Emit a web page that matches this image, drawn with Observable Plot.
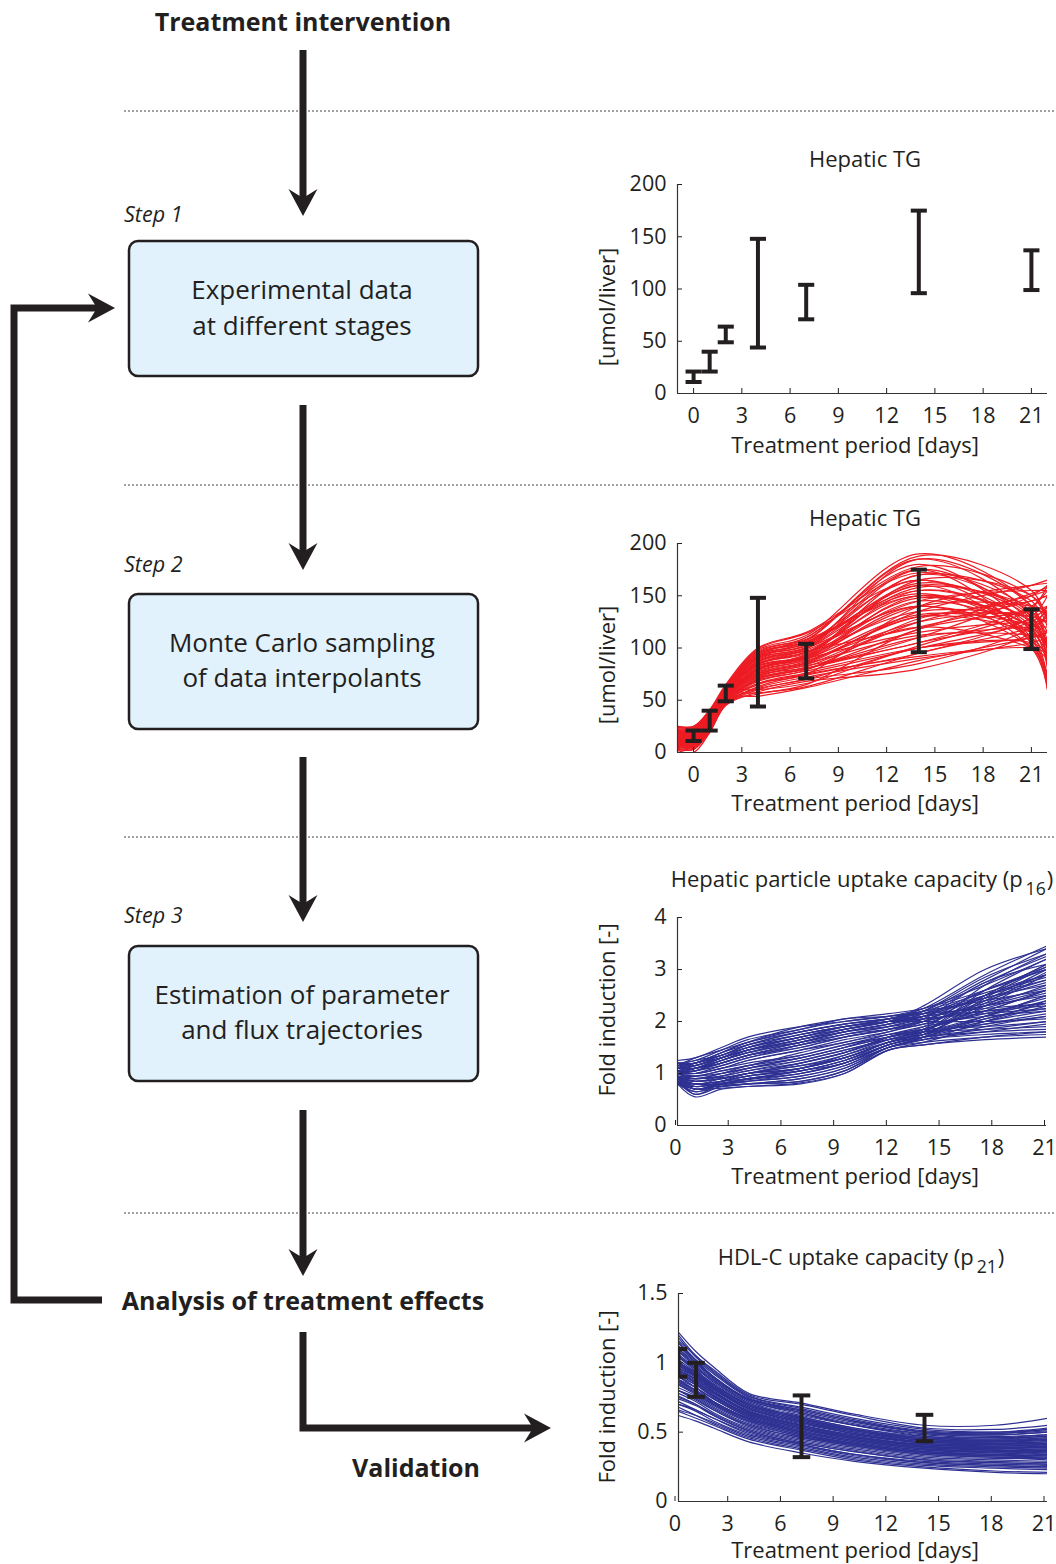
<!DOCTYPE html>
<html><head><meta charset="utf-8">
<script src="https://cdn.jsdelivr.net/npm/d3@7"></script>
<script src="https://cdn.jsdelivr.net/npm/@observablehq/plot@0.6"></script>
<style>
body{margin:0;background:#fff;}
#page{position:relative;width:1056px;height:1564px;overflow:hidden;font-family:"Open Sans",sans-serif;color:#231f20;background:#fff;}
.chart{position:absolute;}
.lbl{position:absolute;transform:translate(-50%,-50%);white-space:nowrap;font-size:22px;line-height:1;}
.ylbl{position:absolute;transform:translate(-50%,-50%) rotate(-90deg);white-space:nowrap;font-size:22px;line-height:1;}
sub{font-size:0.8em;vertical-align:-0.45em;margin-left:3px;margin-right:1px;}
</style></head>
<body><div id="page">
<svg width="1056" height="1564" style="position:absolute;left:0;top:0" font-family="Open Sans, sans-serif" fill="#231f20">
  <g stroke="#444" stroke-width="1" stroke-dasharray="2,2">
    <line x1="124" x2="1056" y1="111" y2="111"/>
    <line x1="124" x2="1056" y1="485" y2="485"/>
    <line x1="124" x2="1056" y1="837" y2="837"/>
    <line x1="124" x2="1056" y1="1213" y2="1213"/>
  </g>
  <g stroke="#231f20" stroke-width="7" fill="none">
    <line x1="303" x2="303" y1="50" y2="202"/>
    <line x1="303" x2="303" y1="405" y2="556"/>
    <line x1="303" x2="303" y1="757" y2="908"/>
    <line x1="303" x2="303" y1="1110" y2="1262"/>
    <path d="M102,1300 H14 V308 H100" stroke-linejoin="miter"/>
    <path d="M303,1332 V1428 H537" stroke-linejoin="miter"/>
  </g>
  <g fill="#231f20">
    <path d="M303,216 L288.5,189 L303,198 L317.5,189 Z"/>
    <path d="M303,570 L288.5,543 L303,552 L317.5,543 Z"/>
    <path d="M303,922 L288.5,895 L303,904 L317.5,895 Z"/>
    <path d="M303,1276 L288.5,1249 L303,1258 L317.5,1249 Z"/>
    <path d="M115,308 L88,293.5 L97,308 L88,322.5 Z"/>
    <path d="M551,1428 L524,1413.5 L533,1428 L524,1442.5 Z"/>
  </g>
  <g fill="#e1f2fc" stroke="#231f20" stroke-width="2.5">
    <rect x="129" y="241" width="349" height="135" rx="9"/>
    <rect x="129" y="594" width="349" height="135" rx="9"/>
    <rect x="129" y="946" width="349" height="135" rx="9"/>
  </g>
  <g text-anchor="middle" font-size="26">
    <text x="302" y="299">Experimental data</text>
    <text x="302" y="335">at different stages</text>
    <text x="302" y="652">Monte Carlo sampling</text>
    <text x="302" y="687">of data interpolants</text>
    <text x="302" y="1004">Estimation of parameter</text>
    <text x="302" y="1039">and flux trajectories</text>
  </g>
  <g font-style="italic" font-size="21.5">
    <text x="124" y="222">Step 1</text>
    <text x="124" y="572">Step 2</text>
    <text x="124" y="923">Step 3</text>
  </g>
  <g font-weight="bold" text-anchor="middle" font-size="25">
    <text x="303" y="31">Treatment intervention</text>
    <text x="303" y="1310">Analysis of treatment effects</text>
    <text x="416" y="1477">Validation</text>
  </g>
</svg>

<div class="lbl" style="left:865px;top:158px">Hepatic TG</div>
<div class="lbl" style="left:855px;top:444px">Treatment period [days]</div>
<div class="ylbl" style="left:606px;top:307px">[umol/liver]</div>

<div class="lbl" style="left:865px;top:517px">Hepatic TG</div>
<div class="lbl" style="left:855px;top:802px">Treatment period [days]</div>
<div class="ylbl" style="left:606px;top:665px">[umol/liver]</div>

<div class="lbl" style="left:862px;top:882px">Hepatic particle uptake capacity (p<sub>16</sub>)</div>
<div class="lbl" style="left:855px;top:1175px">Treatment period [days]</div>
<div class="ylbl" style="left:606px;top:1010px">Fold induction [-]</div>

<div class="lbl" style="left:861px;top:1260px">HDL-C uptake capacity (p<sub>21</sub>)</div>
<div class="lbl" style="left:855px;top:1549px">Treatment period [days]</div>
<div class="ylbl" style="left:606px;top:1397px">Fold induction [-]</div>
</div>
<script>
// ---- Data ----
// Hepatic TG measurements (error bars)
const tgDays = [0, 1, 2, 4, 7, 14, 21];
const tgLow  = [11, 21, 49, 44, 71, 96, 99];
const tgHigh = [21, 40, 64, 148, 104, 175, 137];

// Monte Carlo interpolants of hepatic TG, values at these days
const tgCurveDays = [-1, 0, 1, 2, 4, 7, 14, 21, 22];
const tgCurves = [
  [12,12,28,55,80,90,150,120,100],
  [8,8,25,52,75,85,130,115,105],
  [18,18,32,58,88,100,175,125,90],
  [5,5,22,48,65,75,95,130,150],
  [22,22,38,62,95,108,185,130,85],
  [15,15,30,54,82,92,140,140,135],
  [10,10,26,50,70,80,110,150,160],
  [20,20,35,60,90,105,165,110,70],
  [3,3,20,46,60,70,85,120,140],
  [14,14,30,57,85,95,160,105,65],
  [25,25,40,64,98,112,190,140,95],
  [7,7,24,50,72,84,120,100,90],
  [17,17,33,56,86,98,145,155,155],
  [11,11,27,53,78,88,125,135,135],
  [19,19,36,61,92,102,170,145,120],
  [6,6,23,49,68,78,100,110,115],
  [13,13,29,55,80,94,155,125,100],
  [23,23,39,63,96,110,180,115,70],
  [9,9,25,51,74,86,135,160,165],
  [16,16,31,57,84,96,150,100,60],
  [4,4,21,47,62,72,90,105,110],
  [21,21,37,60,93,104,160,135,115],
  [12,12,28,54,79,90,115,125,125],
  [18,18,34,59,89,100,140,110,90],
  [8,8,24,51,73,83,105,140,155],
  [15,15,32,56,83,93,165,150,130],
  [24,24,40,62,97,108,150,120,100],
  [10,10,26,52,76,87,130,130,125],
  [20,20,36,60,91,103,175,105,60],
  [2,0,19,45,58,68,80,115,135],
  [14,14,30,55,81,91,145,115,95],
  [17,17,33,58,87,97,120,145,150],
  [6,6,22,49,70,80,110,120,120],
  [22,22,38,61,94,106,155,125,105],
  [11,11,27,53,77,89,140,100,75],
  [19,19,35,59,90,101,185,140,105],
  [9,9,25,50,71,82,125,150,155],
  [16,16,32,57,85,96,135,130,125],
  [13,13,29,54,80,92,170,130,100],
  [7,7,23,48,66,76,100,125,135],
  [5,5,21,47,56,63,95,120,130],
  [10,10,27,52,54,62,88,110,115],
  [20,20,34,58,60,66,100,105,95],
  [15,15,31,55,57,65,118,135,140],
  [8,8,24,50,66,75,140,160,162],
  [24,24,39,63,99,114,165,120,80],
  [12,12,29,54,92,110,178,150,125],
  [18,18,33,57,84,99,158,140,130],
  [3,3,20,46,63,74,92,100,95],
  [21,21,36,61,91,107,188,155,125],
  [14,14,30,56,76,85,112,112,108],
  [7,7,23,49,69,79,128,145,150],
  [25,25,41,65,100,115,172,135,100],
  [9,9,25,51,79,92,148,118,85],
  [17,17,33,57,74,81,105,128,140],
  [11,11,28,53,87,100,162,128,90],
  [22,22,37,61,83,90,132,122,115],
  [6,6,22,48,61,70,102,138,160],
  [19,19,34,59,95,105,152,108,62],
  [13,13,29,55,72,80,118,152,158]
];

// Hepatic particle uptake capacity p16 trajectories
const p16Days = [0, 1, 2.5, 4, 7, 9.5, 12, 14, 17.5, 21];
const p16Curves = [
  [1.0,0.9,1.0,1.1,1.3,1.5,1.7,1.85,2.2,2.6],
  [1.1,1.2,1.4,1.6,1.8,1.95,2.05,2.2,2.8,3.4],
  [0.9,0.6,0.8,0.85,0.95,1.15,1.5,1.6,1.7,1.75],
  [1.0,1.1,1.3,1.5,1.7,1.9,2.0,2.1,2.5,2.9],
  [0.85,0.8,0.75,0.8,0.9,1.1,1.5,1.7,2.1,2.5],
  [1.2,1.25,1.45,1.65,1.85,2.05,2.1,2.2,2.4,2.6],
  [0.95,0.7,0.85,1.0,1.2,1.4,1.7,1.9,2.5,3.1],
  [1.05,1.0,1.1,1.25,1.45,1.6,1.8,1.95,2.1,2.2],
  [0.8,0.75,0.8,0.9,1.0,1.2,1.55,1.75,2.3,2.9],
  [1.15,1.2,1.35,1.5,1.75,1.9,2.05,2.25,2.9,3.45],
  [1.0,0.95,1.05,1.15,1.4,1.6,1.75,1.8,1.85,1.9],
  [0.9,0.85,0.9,1.0,1.1,1.3,1.6,1.8,2.4,3.0],
  [1.1,1.15,1.3,1.45,1.65,1.85,2.0,2.05,2.2,2.35],
  [0.85,0.6,0.75,0.8,0.85,1.05,1.45,1.55,1.65,1.7],
  [1.05,1.1,1.2,1.35,1.55,1.75,1.9,2.1,2.6,3.05],
  [0.95,0.9,0.95,1.05,1.25,1.45,1.65,1.75,2.0,2.3],
  [1.2,1.2,1.4,1.6,1.9,2.05,2.15,2.25,2.6,3.0],
  [0.8,0.7,0.72,0.75,0.8,1.0,1.45,1.6,1.9,2.1],
  [1.0,1.05,1.15,1.3,1.5,1.7,1.85,2.0,2.3,2.7],
  [0.9,0.8,0.85,0.95,1.1,1.35,1.65,1.85,2.7,3.3],
  [1.15,1.25,1.35,1.55,1.8,1.95,2.05,2.1,2.3,2.5],
  [0.95,0.85,0.9,1.0,1.15,1.35,1.6,1.7,1.8,1.85],
  [1.05,1.05,1.25,1.4,1.6,1.8,1.95,2.15,2.5,2.8],
  [0.85,0.65,0.8,0.85,0.95,1.15,1.5,1.65,2.0,2.4],
  [1.1,1.1,1.25,1.45,1.7,1.85,2.0,2.3,3.0,3.4],
  [1.0,1.0,1.1,1.2,1.35,1.55,1.75,1.9,2.15,2.45],
  [0.9,0.9,0.95,1.05,1.2,1.4,1.7,1.85,2.2,2.6],
  [1.2,1.2,1.4,1.55,1.75,1.9,2.0,2.0,2.0,2.05],
  [0.95,0.75,0.85,0.95,1.05,1.25,1.55,1.75,2.35,2.95],
  [1.05,1.15,1.3,1.45,1.6,1.75,1.85,1.95,2.4,2.75],
  [0.8,0.8,0.78,0.8,0.85,1.05,1.5,1.65,1.8,1.95],
  [1.1,1.1,1.2,1.35,1.6,1.8,1.95,2.1,2.45,2.7],
  [1.0,0.9,1.0,1.15,1.35,1.55,1.7,1.8,1.95,2.1],
  [0.9,0.85,0.9,1.0,1.15,1.3,1.6,1.8,2.6,3.2],
  [1.15,1.3,1.45,1.6,1.85,2.0,2.1,2.15,2.25,2.35],
  [0.85,0.7,0.78,0.85,1.0,1.2,1.55,1.7,2.05,2.25],
  [1.0,1.05,1.2,1.35,1.55,1.7,1.85,2.05,2.75,3.1],
  [0.95,0.95,1.05,1.15,1.3,1.5,1.75,1.85,1.9,2.0],
  [1.05,1.0,1.1,1.25,1.45,1.65,1.8,2.0,2.5,2.85],
  [0.9,0.8,0.85,0.9,1.05,1.25,1.6,1.75,2.1,2.5],
  [1.25,1.3,1.5,1.7,1.9,2.0,2.1,2.25,2.7,3.2],
  [0.8,0.55,0.7,0.75,0.82,1.0,1.45,1.55,1.7,1.8],
  [1.0,1.0,1.15,1.3,1.55,1.75,1.9,2.05,2.35,2.65],
  [0.9,0.75,0.82,0.9,1.05,1.25,1.55,1.7,1.85,2.0],
  [1.1,1.2,1.3,1.45,1.7,1.85,2.0,2.2,2.85,3.3],
  [0.95,0.85,0.95,1.1,1.3,1.5,1.7,1.85,2.25,2.55],
  [1.05,1.1,1.25,1.4,1.65,1.8,1.95,2.05,2.15,2.25],
  [0.85,0.7,0.8,0.88,1.0,1.2,1.5,1.7,2.45,3.05],
  [1.15,1.2,1.35,1.55,1.8,1.95,2.05,2.15,2.45,2.8],
  [1.0,0.95,1.0,1.1,1.25,1.45,1.65,1.8,2.05,2.35],
  [0.9,0.9,0.92,1.0,1.1,1.3,1.6,1.75,2.0,2.2],
  [1.2,1.15,1.35,1.5,1.7,1.9,2.05,2.2,2.55,2.9],
  [0.8,0.65,0.75,0.8,0.9,1.1,1.5,1.65,1.75,1.8],
  [1.05,1.05,1.2,1.35,1.5,1.7,1.85,2.0,2.6,3.0],
  [0.95,0.8,0.9,1.0,1.2,1.4,1.65,1.8,2.1,2.4],
  [1.1,1.15,1.3,1.5,1.75,1.9,2.0,2.1,2.2,2.3],
  [0.85,0.8,0.85,0.95,1.1,1.3,1.6,1.8,2.5,3.1],
  [1.0,1.1,1.25,1.4,1.6,1.8,1.9,2.0,2.3,2.6],
  [0.9,0.7,0.8,0.9,1.05,1.2,1.55,1.7,1.95,2.15],
  [1.15,1.1,1.3,1.45,1.65,1.85,2.0,2.15,2.75,3.25]
];

// HDL-C uptake capacity p21 measurements and trajectories
const hdlDays = [0, 1, 7, 14];
const hdlLow  = [0.9, 0.755, 0.32, 0.435];
const hdlHigh = [1.1, 1.0, 0.765, 0.625];
const p21Days = [0, 1, 2, 4, 7, 10, 14, 18, 21];
const p21Curves = [
  [1.2,1.05,0.95,0.77,0.7,0.62,0.53,0.52,0.55],
  [1.0,0.9,0.8,0.65,0.55,0.48,0.42,0.4,0.4],
  [0.65,0.6,0.55,0.45,0.37,0.3,0.25,0.22,0.21],
  [1.1,0.98,0.88,0.72,0.62,0.55,0.48,0.46,0.47],
  [0.9,0.82,0.72,0.6,0.5,0.44,0.38,0.36,0.35],
  [0.8,0.74,0.66,0.55,0.46,0.4,0.34,0.32,0.3],
  [1.15,1.02,0.9,0.74,0.66,0.58,0.5,0.48,0.5],
  [0.95,0.86,0.77,0.63,0.53,0.46,0.4,0.38,0.38],
  [0.7,0.65,0.58,0.48,0.4,0.33,0.28,0.26,0.25],
  [1.05,0.95,0.84,0.7,0.6,0.52,0.45,0.43,0.44],
  [0.85,0.78,0.7,0.58,0.48,0.42,0.36,0.34,0.33],
  [1.0,0.92,0.82,0.67,0.57,0.5,0.43,0.42,0.43],
  [0.75,0.7,0.62,0.51,0.42,0.36,0.3,0.28,0.27],
  [1.1,1.0,0.9,0.73,0.63,0.55,0.47,0.45,0.46],
  [0.92,0.84,0.75,0.62,0.52,0.45,0.39,0.37,0.36],
  [0.88,0.8,0.72,0.6,0.5,0.43,0.37,0.35,0.34],
  [1.18,1.04,0.93,0.76,0.68,0.6,0.52,0.5,0.52],
  [0.98,0.89,0.79,0.65,0.55,0.47,0.41,0.39,0.39],
  [0.68,0.62,0.56,0.46,0.38,0.31,0.26,0.24,0.23],
  [1.02,0.93,0.83,0.68,0.58,0.51,0.44,0.42,0.42],
  [0.82,0.76,0.68,0.56,0.47,0.41,0.35,0.33,0.32],
  [1.08,0.97,0.87,0.71,0.61,0.53,0.46,0.44,0.45],
  [0.94,0.85,0.76,0.62,0.52,0.45,0.39,0.37,0.37],
  [0.78,0.72,0.64,0.53,0.44,0.38,0.32,0.3,0.29],
  [1.12,1.0,0.89,0.73,0.64,0.56,0.49,0.47,0.48],
  [0.96,0.87,0.78,0.64,0.54,0.46,0.4,0.38,0.4],
  [0.86,0.79,0.71,0.59,0.49,0.42,0.36,0.34,0.35],
  [1.04,0.94,0.85,0.69,0.59,0.51,0.44,0.43,0.45],
  [0.72,0.66,0.6,0.49,0.41,0.34,0.29,0.27,0.26],
  [0.99,0.9,0.81,0.66,0.56,0.49,0.42,0.41,0.42],
  [0.9,0.82,0.74,0.61,0.51,0.44,0.38,0.36,0.37],
  [1.06,0.96,0.86,0.7,0.6,0.52,0.45,0.44,0.46],
  [0.84,0.77,0.69,0.57,0.47,0.41,0.35,0.33,0.34],
  [1.14,1.01,0.9,0.74,0.65,0.57,0.5,0.49,0.52],
  [0.93,0.85,0.76,0.63,0.53,0.45,0.39,0.38,0.39],
  [0.8,0.73,0.66,0.54,0.45,0.39,0.33,0.31,0.31],
  [1.01,0.91,0.82,0.67,0.57,0.49,0.43,0.41,0.41],
  [0.87,0.8,0.71,0.59,0.49,0.42,0.36,0.35,0.36],
  [0.97,0.88,0.79,0.65,0.55,0.47,0.41,0.4,0.41],
  [0.66,0.62,0.57,0.47,0.39,0.32,0.27,0.25,0.24],
  [1.22,1.08,0.97,0.78,0.71,0.63,0.55,0.55,0.6],
  [0.62,0.58,0.53,0.43,0.35,0.29,0.24,0.21,0.2],
  [1.0,0.93,0.84,0.7,0.6,0.52,0.46,0.45,0.47],
  [0.9,0.84,0.76,0.63,0.53,0.46,0.4,0.39,0.4],
  [1.08,0.99,0.89,0.74,0.64,0.55,0.49,0.48,0.5],
  [0.76,0.7,0.63,0.52,0.43,0.37,0.31,0.29,0.28],
  [0.96,0.9,0.81,0.67,0.57,0.49,0.43,0.42,0.43],
  [0.84,0.78,0.7,0.58,0.48,0.41,0.35,0.33,0.33],
  [1.16,1.05,0.94,0.76,0.67,0.59,0.51,0.5,0.53],
  [0.92,0.86,0.78,0.64,0.54,0.47,0.41,0.39,0.39],
  [0.7,0.66,0.6,0.5,0.41,0.34,0.28,0.26,0.25],
  [1.04,0.96,0.87,0.71,0.61,0.53,0.47,0.46,0.48],
  [0.88,0.82,0.74,0.61,0.51,0.44,0.38,0.37,0.38],
  [0.98,0.91,0.82,0.68,0.58,0.5,0.44,0.43,0.44],
  [0.8,0.75,0.67,0.55,0.46,0.4,0.34,0.32,0.32],
  [1.12,1.02,0.92,0.75,0.66,0.58,0.5,0.49,0.51],
  [0.94,0.88,0.79,0.65,0.55,0.48,0.42,0.4,0.41],
  [0.86,0.8,0.72,0.6,0.5,0.43,0.37,0.36,0.37],
  [1.0,0.92,0.83,0.69,0.59,0.51,0.45,0.44,0.45],
  [0.74,0.69,0.62,0.51,0.42,0.36,0.3,0.28,0.27]
];

const dayTicks = [0, 3, 6, 9, 12, 15, 18, 21];

// ---- helpers ----
const ink = "#231f20";
const tidy = (curves, days) => curves.flatMap((vals, i) => vals.map((v, j) => ({id: i, day: days[j], value: v})));
const bars = (days, lo, hi) => days.map((d, i) => ({day: d, lo: lo[i], hi: hi[i]}));
const capHalf = 0.5;
function errorMarks(data) {
  return [
    Plot.ruleX(data, {x: "day", y1: "lo", y2: "hi", stroke: ink, strokeWidth: 4, clip: true}),
    Plot.link(data, {x1: d => d.day - capHalf, x2: d => d.day + capHalf, y1: "lo", y2: "lo", stroke: ink, strokeWidth: 4, clip: true}),
    Plot.link(data, {x1: d => d.day - capHalf, x2: d => d.day + capHalf, y1: "hi", y2: "hi", stroke: ink, strokeWidth: 4, clip: true})
  ];
}
function axes(xmin, yTicks, fmt, xdx = 0) {
  return [
    Plot.axisX({ticks: dayTicks, tickSize: -5, tickPadding: 19, tickFormat: d => String(d), label: null, dx: xdx}),
    Plot.axisY({ticks: yTicks, tickSize: -5, tickPadding: 16, tickFormat: fmt || (d => String(d)), label: null}),
    Plot.ruleX([xmin], {stroke: "#333", strokeWidth: 1.2}),
    Plot.ruleY([0], {stroke: "#333", strokeWidth: 1.2})
  ];
}
function place(svg, left, top) {
  svg.classList.add("chart");
  svg.style.left = left + "px";
  svg.style.top = top + "px";
  document.getElementById("page").appendChild(svg);
}
const baseStyle = {fontFamily: "Open Sans, sans-serif", fontSize: "21.5px", color: ink, background: "transparent", overflow: "visible"};

// Chart 1
place(Plot.plot({
  width: 466, height: 330, marginLeft: 87, marginRight: 9, marginTop: 44, marginBottom: 77,
  style: baseStyle,
  x: {domain: [-1, 22], axis: null},
  y: {domain: [0, 200], axis: null},
  marks: [...axes(-1, [0, 50, 100, 150, 200]), ...errorMarks(bars(tgDays, tgLow, tgHigh))]
}), 590, 140);

// Chart 2
place(Plot.plot({
  width: 466, height: 320, marginLeft: 87, marginRight: 9, marginTop: 43, marginBottom: 68,
  style: baseStyle,
  x: {domain: [-1, 22], axis: null},
  y: {domain: [0, 200], axis: null},
  marks: [
    Plot.line(tidy(tgCurves, tgCurveDays), {x: "day", y: "value", z: "id", curve: "catmull-rom", stroke: "#ed1c24", strokeWidth: 1.2, clip: true}),
    ...axes(-1, [0, 50, 100, 150, 200]),
    ...errorMarks(bars(tgDays, tgLow, tgHigh))
  ]
}), 590, 500);

// Chart 3
place(Plot.plot({
  width: 466, height: 330, marginLeft: 87, marginRight: 10, marginTop: 57, marginBottom: 65,
  style: baseStyle,
  x: {domain: [0, 21], axis: null},
  y: {domain: [0, 4], axis: null},
  marks: [
    Plot.line(tidy(p16Curves, p16Days), {x: "day", y: "value", z: "id", curve: "catmull-rom", stroke: "#2e3192", strokeWidth: 1.2, clip: true}),
    ...axes(0, [0, 1, 2, 3, 4], null, -2)
  ]
}), 590, 860);

// Chart 4
place(Plot.plot({
  width: 466, height: 324, marginLeft: 88, marginRight: 9, marginTop: 53, marginBottom: 63,
  style: baseStyle,
  x: {domain: [0, 21], axis: null},
  y: {domain: [0, 1.5], axis: null},
  marks: [
    Plot.line(tidy(p21Curves, p21Days), {x: "day", y: "value", z: "id", curve: "catmull-rom", stroke: "#2e3192", strokeWidth: 1.2, clip: true}),
    ...axes(0, [0, 0.5, 1, 1.5], null, -3.5),
    ...errorMarks(bars(hdlDays, hdlLow, hdlHigh))
  ]
}), 590, 1240);
</script>
</body></html>
